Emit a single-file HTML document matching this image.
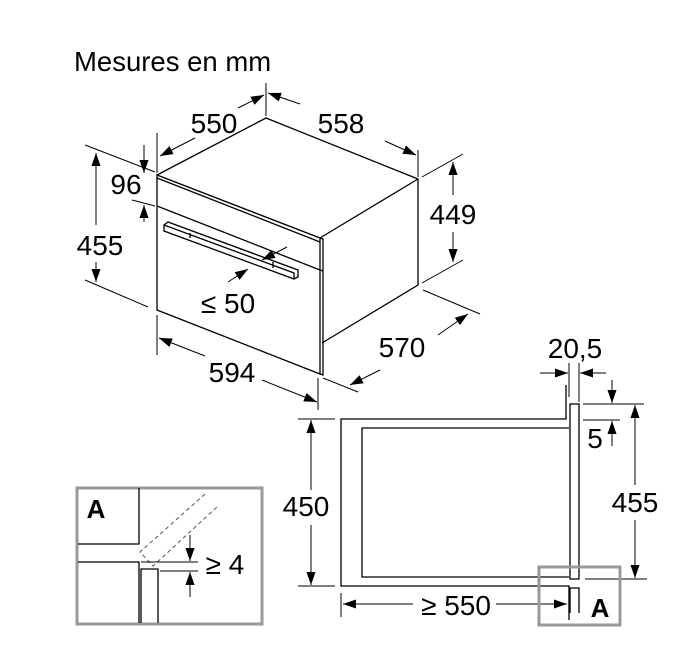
<!DOCTYPE html>
<html><head><meta charset="utf-8"><style>html,body{margin:0;padding:0;background:#fff}svg{display:block}</style></head><body>
<svg width="694" height="654" viewBox="0 0 694 654" xmlns="http://www.w3.org/2000/svg" font-family="Liberation Sans, Arial, sans-serif">
<defs>
<marker id="a" viewBox="0 0 10 10" refX="10" refY="5" markerWidth="13" markerHeight="13" markerUnits="userSpaceOnUse" orient="auto"><path d="M0,1.5 L10,5 L0,8.5 Z" fill="#000"/></marker>
</defs>
<text x="74" y="71" font-size="27.5">Mesures en mm</text>
<g stroke="#000" stroke-width="1.3" fill="none">
<path d="M157,175 L266,118 L418,179 L418,285 L322,343"/>
<path d="M320,238 L418,179"/>
<path d="M157,175 L157,310 L320,374 L320,238 Z" fill="#fff"/>
<path d="M320,238 L323,239 L323,375 L320,374"/>
<path d="M157,178 L320,242"/>
<path d="M157,206 L320,270 L323,271"/>
<path d="M164,225 L168,222 L298,270 L298,277 L294,279 L164,231 Z" fill="#fff"/>
<path d="M164,225 L294,273 L294,279"/>
<path d="M190,233 L190,238"/>
<path d="M273,262 L273,268"/>
</g>
<g stroke="#000" stroke-width="1" fill="none">
<line x1="157" y1="133" x2="157" y2="173"/>
<line x1="266" y1="83" x2="266" y2="116"/>
<line x1="195" y1="138" x2="160" y2="156" marker-end="url(#a)"/>
<line x1="238" y1="108" x2="264" y2="95" marker-end="url(#a)"/>
<line x1="418" y1="150" x2="418" y2="177"/>
<line x1="300" y1="104" x2="268" y2="93" marker-end="url(#a)"/>
<line x1="385" y1="141" x2="416" y2="155" marker-end="url(#a)"/>
<line x1="85" y1="145" x2="155" y2="172"/>
<line x1="132" y1="200" x2="155" y2="206"/>
<line x1="85" y1="280" x2="148" y2="307"/>
<line x1="144" y1="145" x2="144" y2="173" marker-end="url(#a)"/>
<line x1="144" y1="222" x2="144" y2="205" marker-end="url(#a)"/>
<line x1="96" y1="225" x2="96" y2="153" marker-end="url(#a)"/>
<line x1="96" y1="262" x2="96" y2="282" marker-end="url(#a)"/>
<line x1="422" y1="177" x2="463" y2="154"/>
<line x1="422" y1="283" x2="463" y2="260"/>
<line x1="453" y1="195" x2="453" y2="162" marker-end="url(#a)"/>
<line x1="453" y1="232" x2="453" y2="262" marker-end="url(#a)"/>
<line x1="423" y1="290" x2="480" y2="314"/>
<line x1="323" y1="378" x2="358" y2="392"/>
<line x1="380" y1="370" x2="350" y2="385" marker-end="url(#a)"/>
<line x1="438" y1="335" x2="468" y2="314" marker-end="url(#a)"/>
<line x1="157" y1="315" x2="157" y2="355"/>
<line x1="318" y1="378" x2="318" y2="410"/>
<line x1="205" y1="356" x2="159" y2="338" marker-end="url(#a)"/>
<line x1="262" y1="380" x2="317" y2="402" marker-end="url(#a)"/>
<line x1="287" y1="247" x2="262" y2="260" marker-end="url(#a)"/>
<line x1="228" y1="282" x2="248" y2="269" marker-end="url(#a)"/>
</g>
<g font-size="28" text-anchor="middle">
<text x="214" y="133">550</text>
<text x="341" y="133">558</text>
<text x="126" y="194">96</text>
<text x="100" y="255">455</text>
<text x="453" y="224">449</text>
<text x="402" y="357">570</text>
<text x="232" y="382">594</text>
<text x="228" y="313">≤ 50</text>
<text x="575" y="358">20,5</text>
<text x="595" y="448">5</text>
<text x="635" y="512">455</text>
<text x="306" y="516">450</text>
<text x="456" y="615">≥ 550</text>
<text x="225" y="574">≥ 4</text>
</g>
<g stroke="#000" stroke-width="1.3" fill="none">
<path d="M566,385 L566,419 L341,419 L341,586 L569,586 L569,620"/>
<path d="M569,428 L362,428 L362,577 L569,577"/>
<rect x="570" y="404" width="9" height="175" fill="#fff"/>
<path d="M570,613 L570,588 L579,588 L579,613"/>
</g>
<g stroke="#000" stroke-width="1" fill="none">
<line x1="569" y1="363" x2="569" y2="397"/>
<line x1="579" y1="363" x2="579" y2="402"/>
<line x1="540" y1="373" x2="568" y2="373" marker-end="url(#a)"/>
<line x1="606" y1="373" x2="580" y2="373" marker-end="url(#a)"/>
<line x1="583" y1="404" x2="644" y2="404"/>
<line x1="583" y1="420" x2="620" y2="420"/>
<line x1="612" y1="380" x2="612" y2="403" marker-end="url(#a)"/>
<line x1="612" y1="446" x2="612" y2="421" marker-end="url(#a)"/>
<line x1="635" y1="485" x2="635" y2="405" marker-end="url(#a)"/>
<line x1="635" y1="520" x2="635" y2="578" marker-end="url(#a)"/>
<line x1="585" y1="579" x2="647" y2="579"/>
<line x1="298" y1="419" x2="335" y2="419"/>
<line x1="298" y1="586" x2="335" y2="586"/>
<line x1="311" y1="490" x2="311" y2="420" marker-end="url(#a)"/>
<line x1="311" y1="525" x2="311" y2="585" marker-end="url(#a)"/>
<line x1="341" y1="593" x2="341" y2="617"/>
<line x1="413" y1="604" x2="343" y2="604" marker-end="url(#a)"/>
<line x1="496" y1="604" x2="567" y2="604" marker-end="url(#a)"/>
</g>
<rect x="539" y="567" width="81" height="58" fill="none" stroke="#999" stroke-width="3"/>
<text x="600" y="617" font-size="26" font-weight="bold" text-anchor="middle">A</text>
<rect x="77" y="488" width="185" height="136" fill="none" stroke="#999" stroke-width="3"/>
<text x="96" y="518" font-size="26" font-weight="bold" text-anchor="middle">A</text>
<g stroke="#000" stroke-width="1.3" fill="none">
<path d="M78,544 L139,544 L139,488"/>
<path d="M78,562 L139,562 L139,623"/>
<path d="M141,623 L141,569 L158,569 L158,623"/>
</g>
<g stroke="#555" stroke-width="1" fill="none" stroke-dasharray="4,3">
<path d="M205,494 L140,552 L153,566 L217,507"/>
</g>
<g stroke="#000" stroke-width="1" fill="none">
<line x1="141" y1="562" x2="198" y2="562"/>
<line x1="160" y1="571" x2="198" y2="571"/>
<line x1="190" y1="535" x2="190" y2="561" marker-end="url(#a)"/>
<line x1="190" y1="597" x2="190" y2="572" marker-end="url(#a)"/>
</g>
</svg>
</body></html>
